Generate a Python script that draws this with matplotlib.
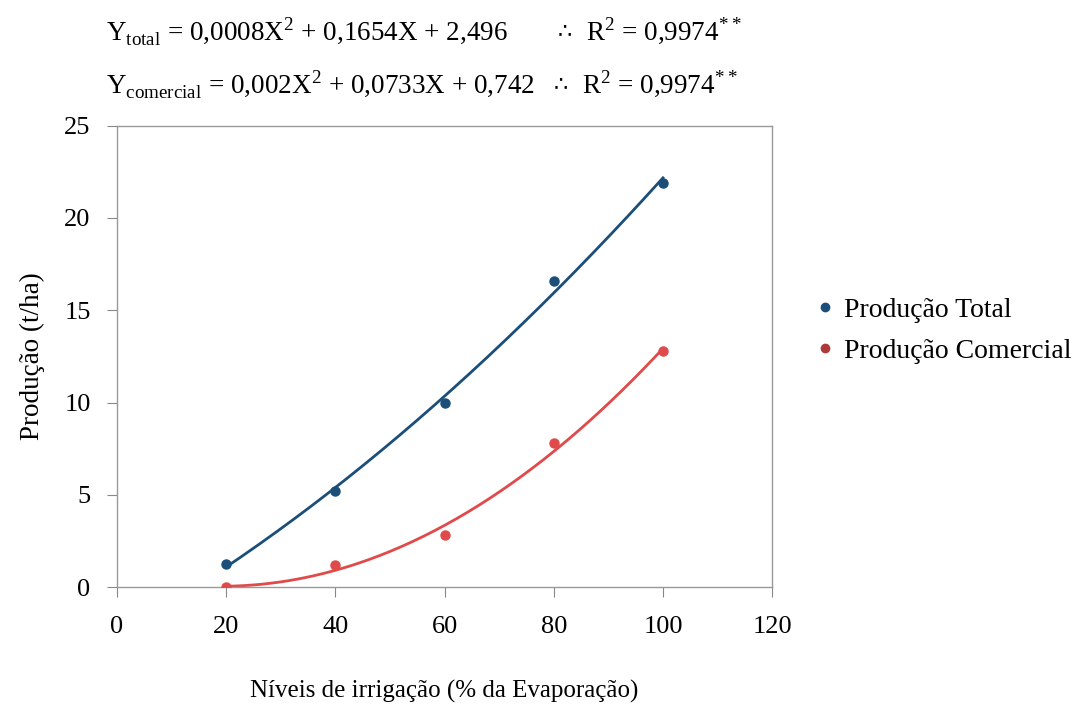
import numpy as np
import matplotlib
matplotlib.use('Agg')
import matplotlib.pyplot as plt
from matplotlib.lines import Line2D

plt.rcParams['font.family'] = ['Liberation Serif', 'DejaVu Sans']
plt.rcParams['mathtext.fontset'] = 'custom'
plt.rcParams['mathtext.rm'] = 'Liberation Serif'

# ----------------------------------------------------------------
# data
# ----------------------------------------------------------------
niveis      = [20, 40, 60, 80, 100]
prod_total  = [1.25, 5.2, 10.0, 16.6, 21.9]
prod_comerc = [0.0, 1.2, 2.8, 7.8, 12.8]

xticks = [0, 20, 40, 60, 80, 100, 120]
yticks = [0, 5, 10, 15, 20, 25]

c_total = '#1b4f79'
c_comerc = '#e04a4a'

fig = plt.figure(figsize=(10.83, 7.10), dpi=100)
ax = fig.add_axes([0.108, 0.173, 0.605, 0.650])

# quadratic trend lines (fitted to the points)
xf = np.linspace(niveis[0], niveis[-1], 200)
for y, c in [(prod_total, c_total), (prod_comerc, c_comerc)]:
    p = np.polyfit(niveis, y, 2)
    ax.plot(xf, np.polyval(p, xf), color=c, lw=2.0, zorder=2)
    ax.plot(niveis, y, 'o', color=c, ms=6.5, zorder=3)

ax.set_xlim(0, 120)
ax.set_ylim(0, 25)
ax.set_xticks(xticks)
ax.set_yticks(yticks)
ax.tick_params(direction='out', length=7, color='#888888', labelsize=19)
ax.tick_params(axis='y', pad=12)
ax.tick_params(axis='x', pad=14)
for s in ax.spines.values():
    s.set_color('#999999')
    s.set_linewidth(1.0)

ax.set_xlabel('Níveis de irrigação (% da Evaporação)', fontsize=18, labelpad=30)
ax.set_ylabel('Produção (t/ha)', fontsize=19.5, labelpad=14)

# legend, markers only
handles = [Line2D([], [], ls='none', marker='o', ms=6, color='#1b4f79'),
           Line2D([], [], ls='none', marker='o', ms=6, color='#b03a3a')]
fig.legend(handles, ['Produção Total', 'Produção Comercial'],
           loc='center left', bbox_to_anchor=(0.731, 0.534), frameon=False,
           fontsize=20, handlelength=0.6, handletextpad=0.4, labelspacing=0.55)

# equations
eq1 = r'Y$_{\mathregular{total}}$ = 0,0008X$^{\mathregular{2}}$ + 0,1654X + 2,496'
eq2 = r'Y$_{\mathregular{comercial}}$ = 0,002X$^{\mathregular{2}}$ + 0,0733X + 0,742'
r2 = r'R$^{\mathregular{2}}$ = 0,9974$^{\mathregular{**}}$'
for yy, eq, xs, xr in [(0.956, eq1, 0.515, 0.541), (0.881, eq2, 0.511, 0.537)]:
    fig.text(0.098, yy, eq, fontsize=19.5, va='center')
    fig.text(xs, yy, '∴', fontsize=16, va='center', family=['DejaVu Sans'])
    fig.text(xr, yy, r2, fontsize=19.5, va='center')

fig.savefig('out.png', dpi=100, facecolor='white')
